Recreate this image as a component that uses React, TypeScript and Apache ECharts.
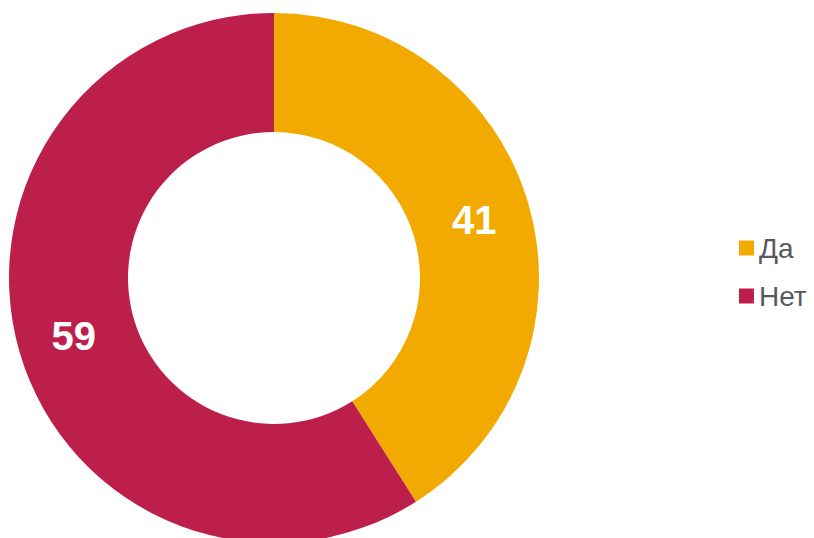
import React, { useEffect, useRef } from "react";
import * as echarts from "echarts";

const categories = ["Да", "Нет"];
const values = [41, 59];
const colors = ["#F2AA00", "#BD1F4B"];

export default function App() {
  const ref = useRef<HTMLDivElement>(null);
  useEffect(() => {
    if (!ref.current) return;
    const chart = echarts.init(ref.current, null, { renderer: "svg" });
    chart.setOption({
      animation: false,
      legend: {
        orient: "vertical",
        left: 739,
        top: 234,
        padding: 0,
        itemWidth: 15,
        itemHeight: 15,
        itemGap: 20,
        icon: "rect",
        textStyle: { fontFamily: "Liberation Sans, Arial, sans-serif", fontSize: 28, color: "#595959" },
        data: categories,
      },
      series: [
        {
          type: "pie",
          center: [274, 278],
          radius: [146, 265],
          startAngle: 90,
          clockwise: true,
          label: {
            show: true,
            position: "inside",
            formatter: "{c}",
            color: "#ffffff",
            fontFamily: "Liberation Sans, Arial, sans-serif",
            fontWeight: "bold",
            fontSize: 40,
          },
          labelLine: { show: false },
          emphasis: { disabled: true },
          data: categories.map((name, i) => ({
            name,
            value: values[i],
            itemStyle: { color: colors[i] },
          })),
        },
      ],
    });
    return () => chart.dispose();
  }, []);
  return (
    <div
      ref={ref}
      style={{ position: "absolute", left: 0, top: 0, width: 814, height: 538, background: "#ffffff" }}
    />
  );
}
